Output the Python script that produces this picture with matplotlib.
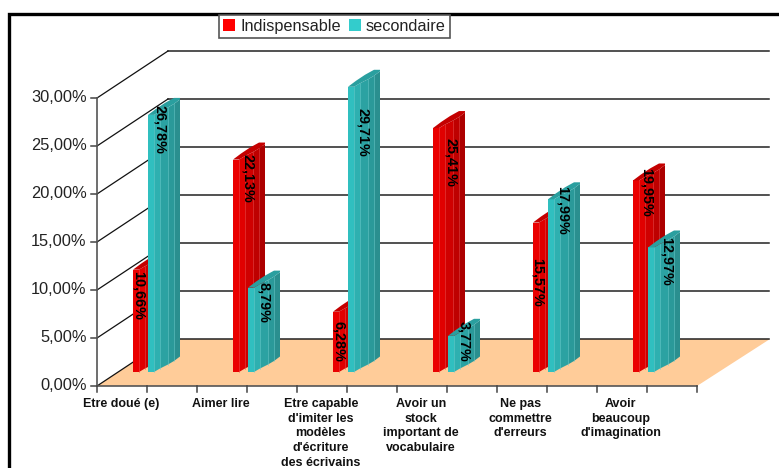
import matplotlib
matplotlib.use('Agg')
import matplotlib.pyplot as plt
from matplotlib.patches import Patch

plt.rcParams['font.family'] = ['Liberation Sans', 'DejaVu Sans']

# donnees
categories = ['Etre doué (e)', 'Aimer lire',
              "Etre capable\nd'imiter les\nmodèles\nd'écriture\ndes écrivains",
              'Avoir un\nstock\nimportant de\nvocabulaire',
              "Ne pas\ncommettre\nd'erreurs",
              "Avoir\nbeaucoup\nd'imagination"]
indispensable = [10.66, 22.13, 6.28, 25.41, 15.57, 19.95]
secondaire = [26.78, 8.79, 29.71, 3.77, 17.99, 12.97]
red_labels = ['10,66%', '22,13%', '6,28%', '25,41%', '15,57%', '19,95%']
teal_labels = ['26,78%', '8,79%', '29,71%', '3,77%', '17,99%', '12,97%']
y_ticks = [0, 5, 10, 15, 20, 25, 30]
y_ticklabels = ['0,00%', '5,00%', '10,00%', '15,00%', '20,00%', '25,00%', '30,00%']

W, H = 779, 468
# echelles : 100 px par categorie, 9.6 px par %
PX_X = 100.0
PX_Y = 9.6
X0, Y0 = 97, 386   # pixel du coin (0, 0%)
DEPTH_X = 71 / PX_X   # decalage du mur du fond
DEPTH_Y = 47 / PX_Y
LIFT = 14 / PX_Y      # pied des barres au dessus du bord avant

fig = plt.figure(figsize=(W / 100, H / 100), dpi=100)
ax = fig.add_axes([0, 0, 1, 1])
ax.set_xlim(-X0 / PX_X, (W - X0) / PX_X)
ax.set_ylim((Y0 - H) / PX_Y, Y0 / PX_Y)
ax.axis('off')

# cadre exterieur
ax.plot([1.0, 9 / W, 9 / W], [1 - 14 / H, 1 - 14 / H, 0], transform=ax.transAxes,
        color='black', lw=2.4, clip_on=False, zorder=1, solid_joinstyle='miter')

# sol
n = len(categories)
ax.fill([0, n, n + 0.73, DEPTH_X], [0, 0, DEPTH_Y, DEPTH_Y], color='#FFCC99', lw=0, zorder=1)

# grille du fond et du mur gauche
for t in y_ticks:
    ax.plot([DEPTH_X, n + 0.72], [t + DEPTH_Y, t + DEPTH_Y], color='#222222', lw=1.1, zorder=2)
    ax.plot([0, DEPTH_X], [t, t + DEPTH_Y], color='#111111', lw=0.9, zorder=2)
    ax.plot([-0.06, 0], [t, t], color='#444444', lw=1.1, zorder=2)
    ax.text(-0.105, t, y_ticklabels[y_ticks.index(t)], ha='right', va='center',
            fontsize=11.8, color='#222222', zorder=6)

# axes avant
ax.plot([0, 0], [0, 30], color='#555555', lw=1.2, zorder=3)
ax.plot([0, n], [0, 0], color='#555555', lw=1.2, zorder=3)
for k in range(2 * n + 1):
    ax.plot([k * 0.5, k * 0.5], [0, -6 / PX_Y], color='#444444', lw=1.1, zorder=3)

for i, lab in enumerate(categories):
    ax.text(i + 0.237, -12 / PX_Y, lab, ha='center', va='top', fontsize=9.0,
            fontweight='bold', color='#111111', linespacing=1.3, zorder=6)

# profil du cylindre a facettes
prof_x = [0, 0.06, 0.12, 0.20, 0.26, 0.32]
prof_y = [0, 0, 3.5 / PX_Y, 7.5 / PX_Y, 11 / PX_Y, 15.5 / PX_Y]
back_x = [0.32, 0.26, 0.17, 0.08]
back_y = [17 / PX_Y, 17 / PX_Y, 12 / PX_Y, 6 / PX_Y]

teal_cols = ['#30BFBF', '#2EB0B0', '#2BA2A2', '#2A9999', '#2A8F8F']
red_cols = ['#EA0000', '#E00000', '#CF0000', '#BE0000', '#AD0000']
teal_top = '#2A9F9F'
red_top = '#C40000'
teal_line = '#6FD0D0'
red_line = '#F05050'


def draw_bar(x, val, cols, top, edge, z):
    base = LIFT
    for j in range(len(cols)):
        xs = [x + prof_x[j], x + prof_x[j + 1], x + prof_x[j + 1], x + prof_x[j]]
        ys = [base + prof_y[j], base + prof_y[j + 1],
              base + val + prof_y[j + 1], base + val + prof_y[j]]
        ax.fill(xs, ys, color=cols[j], lw=0, zorder=z)
        if j > 0:
            ax.plot([xs[0], xs[0]], [ys[0], ys[3]], color=edge, lw=0.5, alpha=0.7, zorder=z)
    tx = [x + p for p in prof_x] + [x + p for p in back_x]
    ty = [base + val + p for p in prof_y] + [base + val + p for p in back_y]
    ax.fill(tx, ty, color=top, lw=0, zorder=z)


# positions dans le plan avant, puis decalage des etiquettes
red_x = 0.36
teal_x = 0.51
red_lab_dx = [0.06, 0.15, 0.06, 0.18, 0.05, 0.14]
red_lab_drop = [26, 19, 30, 34, 60, 11.5]
teal_lab_dx = [0.12, 0.16, 0.15, 0.16, 0.15, 0.19]
teal_lab_drop = [15, 15, 46, 6, 11, 14]

for i in range(n):
    xr = i + red_x
    xt = i + teal_x
    draw_bar(xr, indispensable[i], red_cols, red_top, red_line, 3 + 2 * i)
    draw_bar(xt, secondaire[i], teal_cols, teal_top, teal_line, 4 + 2 * i)
    ax.text(xr + red_lab_dx[i], LIFT + indispensable[i] - red_lab_drop[i] / PX_Y, red_labels[i],
            rotation=-90, ha='center', va='center', fontsize=10.4, color='black',
            fontweight='bold', zorder=30)
    ax.text(xt + teal_lab_dx[i], LIFT + secondaire[i] - teal_lab_drop[i] / PX_Y, teal_labels[i],
            rotation=-90, ha='center', va='center', fontsize=10.4, color='black',
            fontweight='bold', zorder=30)

# legende
handles = [Patch(facecolor='#FF0000', label='Indispensable'),
           Patch(facecolor='#33CCCC', label='secondaire')]
leg = ax.legend(handles=handles, ncol=2, loc='upper left',
                bbox_to_anchor=(219 / W, 1 - 15 / H), bbox_transform=ax.transAxes,
                fancybox=False, framealpha=1, edgecolor='#555555', fontsize=11.7,
                handlelength=0.75, handleheight=0.75, handletextpad=0.3, columnspacing=0.5,
                borderpad=0.25, borderaxespad=0)
leg.get_frame().set_linewidth(1.2)
leg.set_zorder(40)
for t in leg.get_texts():
    t.set_color('#222222')

fig.savefig('out.png', dpi=100)
